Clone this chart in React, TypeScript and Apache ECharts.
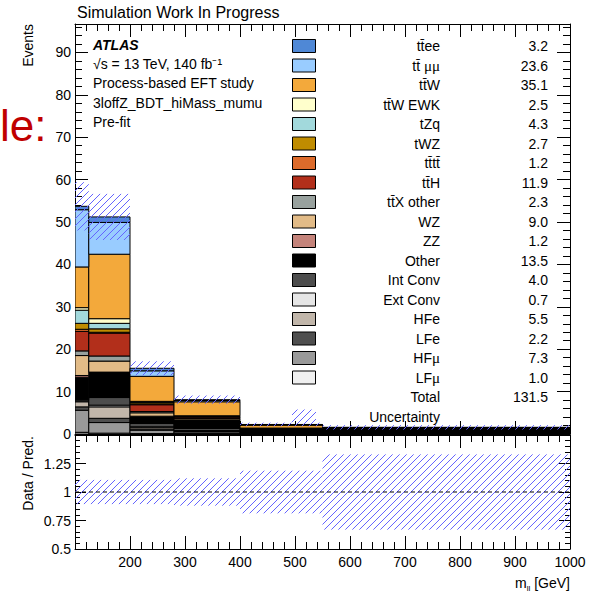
import React, { useEffect, useRef } from 'react';
import * as echarts from 'echarts';

// ---------- data ----------
const binEdges = [100, 125, 200, 280, 400, 550, 1000];

// events per bin, one array per process
const ttee = [0.8, 1.3, 0.6, 0.2, 0.05, 0.03];
const ttmumu = [13.5, 7.5, 1.3, 0.3, 0.1, 0.05];
const ttW = [9.6, 15.2, 5.9, 3.3, 0.7, 0.2];
const ttWEWK = [0.6, 1.1, 0.1, 0.05, 0.03, 0.02];
const tZq = [3.1, 1.3, 0.2, 0.05, 0.02, 0.02];
const tWZ = [1.4, 0.8, 0.3, 0.1, 0.05, 0.03];
const tttt = [0.5, 0.2, 0.2, 0.1, 0.05, 0.02];
const ttH = [4.6, 5.4, 1.6, 0.3, 0.1, 0.05];
const ttXother = [1.1, 1.2, 0.3, 0.1, 0.05, 0.03];
const WZ = [4.7, 2.6, 0.8, 0.3, 0.1, 0.1];
const ZZ = [0.4, 0.1, 0.1, 0.1, 0.05, 0.05];
const Other = [5.3, 5.9, 1.6, 1.9, 0.6, 0.8];
const IntConv = [0.3, 1.8, 0.8, 0.5, 0.1, 0.05];
const ExtConv = [0.2, 0.4, 0.1, 0.0, 0.0, 0.0];
const HFe = [1.2, 2.7, 0.4, 0.2, 0.05, 0.03];
const LFe = [0.8, 1.0, 0.3, 0.1, 0.05, 0.02];
const HFmu = [5.2, 2.5, 0.8, 0.4, 0.1, 0.05];
const LFmu = [0.4, 0.2, 0.1, 0.1, 0.05, 0.02];

// legend order (top of the stack first)
const processBins = [ttee, ttmumu, ttW, ttWEWK, tZq, tWZ, tttt, ttH, ttXother, WZ, ZZ, Other, IntConv, ExtConv, HFe, LFe, HFmu, LFmu];
const processLabels = ['tt\u0304ee', 'tt\u0304 {g|\u03bc\u03bc}', 'tt\u0304W', 'tt\u0304W EWK', 'tZq', 'tWZ', 'tt\u0304tt\u0304', 'tt\u0304H', 'tt\u0304X other', 'WZ', 'ZZ', 'Other', 'Int Conv', 'Ext Conv', 'HFe', 'LFe', 'HF{g|\u03bc}', 'LF{g|\u03bc}'];
const processYields = ['3.2', '23.6', '35.1', '2.5', '4.3', '2.7', '1.2', '11.9', '2.3', '9.0', '1.2', '13.5', '4.0', '0.7', '5.5', '2.2', '7.3', '1.0'];
const processColors = ['#4f88d6', '#99ccff', '#f3a93b', '#ffffcc', '#a2d9dc', '#c08c00', '#dd6b2b', '#b22f1b', '#98a19e', '#e2bb87', '#c4837a', '#000000', '#4d4d4d', '#e6e6e6', '#c1b6aa', '#4f4f4f', '#999999', '#f0f0f0'];
const totalYield = '131.5';

// relative total uncertainty per bin
const relUncertainty = [0.106, 0.106, 0.106, 0.12, 0.187, 0.33];

const infoLines = ['\u221As = 13 TeV, 140 fb\u207B\u00B9', 'Process-based EFT study', '3loffZ_BDT_hiMass_mumu', 'Pre-fit'];

const FONT = '"Liberation Sans", Arial, Helvetica, sans-serif';
const SERIF = '"Liberation Serif", "DejaVu Serif", serif';
const HATCH = '#6464ff';

function hatchLines(left: number, top: number, right: number, bottom: number, d: number) {
  const children: any[] = [];
  const cStart = Math.ceil((left + top) / d) * d;
  for (let c = cStart; c <= right + bottom; c += d) {
    const xa = Math.max(left, c - bottom);
    const xb = Math.min(right, c - top);
    if (xb - xa > 0.3) {
      children.push({
        type: 'line',
        shape: { x1: xa, y1: c - xa, x2: xb, y2: c - xb },
        style: { stroke: HATCH, lineWidth: 1 },
      });
    }
  }
  return children;
}

export default function App() {
  const ref = useRef<HTMLDivElement>(null);

  useEffect(() => {
    document.body.style.margin = '0';
    const chart = echarts.init(ref.current!, undefined, { renderer: 'svg' });

    const nBins = binEdges.length - 1;
    const stackOrder = processBins.map((_, i) => i).reverse(); // bottom → top
    const cum = new Array(nBins).fill(0);
    const series: any[] = [];

    stackOrder.forEach((pIdx, sIdx) => {
      const vals = processBins[pIdx];
      const data = [];
      for (let b = 0; b < nBins; b++) {
        const base = cum[b];
        const top = base + vals[b];
        cum[b] = top;
        data.push([binEdges[b], binEdges[b + 1], base, top]);
      }
      const color = processColors[pIdx];
      series.push({
        type: 'custom',
        name: 'p' + pIdx,
        coordinateSystem: 'cartesian2d',
        xAxisIndex: 0,
        yAxisIndex: 0,
        data,
        encode: { x: [0, 1], y: [2, 3] },
        z: 2 + sIdx,
        clip: true,
        renderItem: (params: any, api: any) => {
          const p0 = api.coord([api.value(0), api.value(3)]);
          const p1 = api.coord([api.value(1), api.value(2)]);
          return {
            type: 'rect',
            shape: { x: p0[0], y: p0[1], width: p1[0] - p0[0], height: p1[1] - p0[1] },
            style: { fill: color, stroke: '#000', lineWidth: 1 },
          };
        },
      });
    });

    const totals = cum.slice();
    const uncData = totals.map((t, b) => [binEdges[b], binEdges[b + 1], t * (1 - relUncertainty[b]), t * (1 + relUncertainty[b])]);
    const hatchRender = (params: any, api: any) => {
      const p0 = api.coord([api.value(0), api.value(3)]);
      const p1 = api.coord([api.value(1), api.value(2)]);
      return { type: 'group', children: hatchLines(p0[0], p0[1], p1[0], p1[1], 7) };
    };
    series.push({
      type: 'custom',
      name: 'Uncertainty',
      coordinateSystem: 'cartesian2d',
      xAxisIndex: 0,
      yAxisIndex: 0,
      data: uncData,
      encode: { x: [0, 1], y: [2, 3] },
      z: 40,
      clip: true,
      renderItem: hatchRender,
    });

    const ratioData = relUncertainty.map((r, b) => [binEdges[b], binEdges[b + 1], 1 - r, 1 + r]);
    series.push({
      type: 'custom',
      name: 'RatioUnc',
      coordinateSystem: 'cartesian2d',
      xAxisIndex: 2,
      yAxisIndex: 2,
      data: ratioData,
      encode: { x: [0, 1], y: [2, 3] },
      z: 10,
      clip: true,
      renderItem: hatchRender,
    });
    series.push({
      type: 'line',
      name: 'unity',
      xAxisIndex: 2,
      yAxisIndex: 2,
      data: [[binEdges[0], 1], [binEdges[binEdges.length - 1], 1]],
      symbol: 'none',
      color: '#000',
      itemStyle: { color: '#000' },
      lineStyle: { color: '#000', width: 1.2, type: [4, 3] },
      z: 20,
    });

    const axisLine = { show: true, onZero: false, lineStyle: { color: '#000', width: 1 } };
    const xBase = (gridIndex: number, position: string, labels: boolean) => ({
      type: 'value',
      gridIndex,
      position,
      min: 100,
      max: 1000,
      interval: 100,
      axisLine,
      axisTick: { show: true, inside: true, length: 13, lineStyle: { color: '#000' } },
      minorTick: { show: true, splitNumber: 5, length: 7, lineStyle: { color: '#000' } },
      splitLine: { show: false },
      minorSplitLine: { show: false },
      axisLabel: {
        show: labels,
        fontSize: 14,
        fontFamily: FONT,
        color: '#000',
        margin: 6,
        formatter: (v: number) => (v === 100 ? '' : String(v)),
      },
    });
    const yMain = (position: string, labels: boolean) => ({
      type: 'value',
      gridIndex: 0,
      position,
      min: 0,
      max: 96.7,
      interval: 10,
      axisLine,
      axisTick: { show: true, inside: true, length: 13, lineStyle: { color: '#000' } },
      minorTick: { show: true, splitNumber: 5, length: 7, lineStyle: { color: '#000' } },
      splitLine: { show: false },
      axisLabel: {
        show: labels,
        fontSize: 14,
        fontFamily: FONT,
        color: '#000',
        margin: 4,
        formatter: (v: number) => (Math.abs(v - Math.round(v / 10) * 10) < 1e-6 ? String(v) : ''),
      },
    });
    const yRatio = (position: string, labels: boolean) => ({
      type: 'value',
      gridIndex: 1,
      position,
      min: 0.5,
      max: 1.5,
      interval: 0.25,
      axisLine,
      axisTick: { show: true, inside: true, length: 11, lineStyle: { color: '#000' } },
      minorTick: { show: true, splitNumber: 5, length: 5, lineStyle: { color: '#000' } },
      splitLine: { show: false },
      axisLabel: {
        show: labels,
        fontSize: 14,
        fontFamily: FONT,
        color: '#000',
        margin: 4,
        formatter: (v: number) => (v > 1.49 ? '' : String(v)),
      },
    });

    const graphic: any[] = [];
    const txt = (x: number, y: number, text: string, extra: any = {}) =>
      graphic.push({
        type: 'text',
        x,
        y,
        silent: true,
        style: {
          text,
          fontSize: 14,
          fontFamily: FONT,
          fill: '#000',
          verticalAlign: 'middle',
          rich: { g: { fontSize: 15, fontFamily: SERIF, fill: '#000' } },
          ...extra,
        },
      });

    txt(77, 12, 'Simulation Work In Progress', { fontSize: 16 });
    txt(93, 45, 'ATLAS', { fontWeight: 'bold', fontStyle: 'italic' });
    infoLines.forEach((l, i) => txt(93, 64 + i * 19.4, l));
    txt(0, 147, 'le:', { fontSize: 44, fill: '#c00000', verticalAlign: 'bottom' });

    graphic.push({
      type: 'text', x: 28, y: 24, rotation: Math.PI / 2, silent: true,
      style: { text: 'Events', fontSize: 14, fontFamily: FONT, fill: '#000', align: 'right', verticalAlign: 'middle' },
    });
    graphic.push({
      type: 'text', x: 28, y: 436, rotation: Math.PI / 2, silent: true,
      style: { text: 'Data / Pred.', fontSize: 14, fontFamily: FONT, fill: '#000', align: 'right', verticalAlign: 'middle' },
    });
    graphic.push({
      type: 'text', x: 570, y: 583, silent: true,
      style: {
        text: '{a|m}{b|ll}{a| [GeV]}',
        align: 'right',
        verticalAlign: 'middle',
        rich: {
          a: { fontSize: 14, fontFamily: FONT, fill: '#000', lineHeight: 18 },
          b: { fontSize: 8, fontFamily: FONT, fill: '#000', verticalAlign: 'bottom', lineHeight: 18 },
        },
      },
    });

    // legend
    const legY0 = 46;
    const legDy = 19.5;
    processLabels.forEach((name, i) => {
      const y = legY0 + i * legDy;
      graphic.push({
        type: 'rect', silent: true,
        shape: { x: 292.5, y: y - 6.5, width: 23, height: 13 },
        style: { fill: processColors[i], stroke: '#000', lineWidth: 1 },
      });
      txt(440, y, name, { align: 'right' });
      txt(548, y, processYields[i], { align: 'right' });
    });
    const yTot = legY0 + processLabels.length * legDy;
    txt(440, yTot, 'Total', { align: 'right' });
    txt(548, yTot, totalYield, { align: 'right' });
    const yUnc = yTot + legDy;
    txt(440, yUnc, 'Uncertainty', { align: 'right' });
    graphic.push({ type: 'group', silent: true, children: hatchLines(292, yUnc - 7, 316, yUnc + 7, 7) });

    chart.setOption({
      animation: false,
      grid: [
        { left: 75, right: 40, top: 24, height: 410 },
        { left: 75, right: 40, top: 435, height: 114 },
      ],
      xAxis: [xBase(0, 'bottom', false), xBase(0, 'top', false), xBase(1, 'bottom', true), xBase(1, 'top', false)],
      yAxis: [yMain('left', true), yMain('right', false), yRatio('left', true), yRatio('right', false)],
      series,
      graphic,
    });

    return () => chart.dispose();
  }, []);

  return <div ref={ref} style={{ width: 610, height: 595 }} />;
}
